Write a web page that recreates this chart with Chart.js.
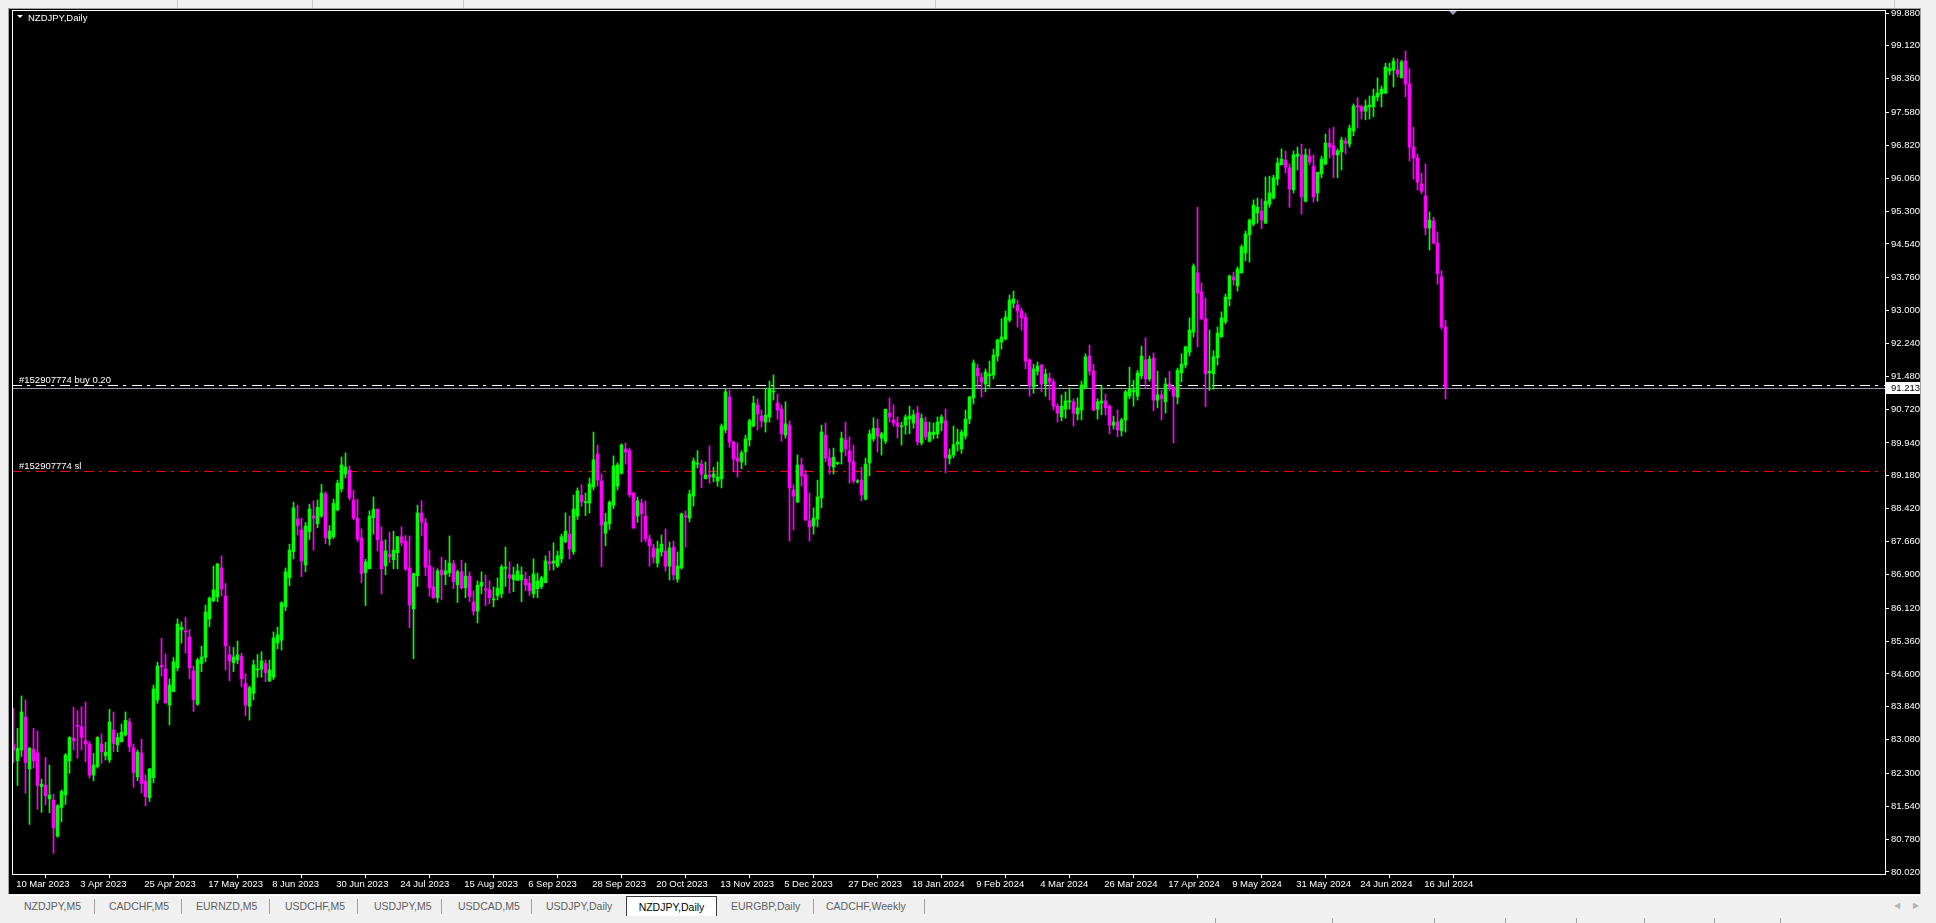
<!DOCTYPE html>
<html>
<head>
<meta charset="utf-8">
<title>NZDJPY,Daily</title>
<script src="https://cdn.jsdelivr.net/npm/chart.js@4.4.1/dist/chart.umd.min.js"></script>
<style>
html,body{margin:0;padding:0;width:1936px;height:923px;overflow:hidden;background:#f0f0f0;font-family:"Liberation Sans",Arial,sans-serif;}
#frame{position:absolute;left:8px;top:8px;width:1913px;height:887px;background:#a0a0a0;}
#wrap{position:absolute;left:9px;top:9px;width:1911px;height:885px;background:#000;}
#c{display:block;}
.topline{position:absolute;top:0;width:1px;height:8px;background:#c8c8c8;}
#tabbar{position:absolute;left:0;top:894px;width:1936px;height:29px;background:#f0f0f0;}
#tabbar .wl{position:absolute;left:9px;top:1px;width:1911px;height:1px;background:#ffffff;}
.tab{position:absolute;top:6px;font-size:10.5px;color:#5f5f5f;white-space:nowrap;line-height:13px;}
.sep{position:absolute;top:5px;width:1px;height:15px;background:#a0a0a0;}
.active{position:absolute;top:2px;height:20px;background:#ffffff;border:1px solid #3c3c3c;border-bottom:none;box-sizing:border-box;font-size:10.5px;color:#000;line-height:13px;padding-top:4px;text-align:center;white-space:nowrap;}
.arrow{position:absolute;top:7px;font-size:8px;color:#b4b4b4;}
.sb{position:absolute;top:24px;width:1px;height:5px;background:#a0a0a0;}
</style>
</head>
<body>
<div class="topline" style="left:177px"></div>
<div class="topline" style="left:312px"></div>
<div class="topline" style="left:463px"></div>
<div class="topline" style="left:935px"></div>
<div class="topline" style="left:1894px"></div>
<div id="frame"></div>
<div id="wrap"><canvas id="c" width="1911" height="885"></canvas></div>
<div id="tabbar">
  <div class="wl"></div>
  <span class="tab" style="left:24px">NZDJPY,M5</span>
  <i class="sep" style="left:94px"></i>
  <span class="tab" style="left:109px">CADCHF,M5</span>
  <i class="sep" style="left:181px"></i>
  <span class="tab" style="left:196px">EURNZD,M5</span>
  <i class="sep" style="left:269px"></i>
  <span class="tab" style="left:285px">USDCHF,M5</span>
  <i class="sep" style="left:357px"></i>
  <span class="tab" style="left:374px">USDJPY,M5</span>
  <i class="sep" style="left:441px"></i>
  <span class="tab" style="left:458px">USDCAD,M5</span>
  <i class="sep" style="left:531px"></i>
  <span class="tab" style="left:546px">USDJPY,Daily</span>
  <div class="active" style="left:626px;width:91px">NZDJPY,Daily</div>
  <span class="tab" style="left:731px">EURGBP,Daily</span>
  <i class="sep" style="left:813px"></i>
  <span class="tab" style="left:826px">CADCHF,Weekly</span>
  <i class="sep" style="left:924px"></i>
  <span class="arrow" style="left:1894px">&#9664;</span>
  <span class="arrow" style="left:1913px">&#9654;</span>
  <i class="sb" style="left:1215px"></i>
  <i class="sb" style="left:1332px"></i>
  <i class="sb" style="left:1434px"></i>
  <i class="sb" style="left:1505px"></i>
  <i class="sb" style="left:1576px"></i>
  <i class="sb" style="left:1644px"></i>
  <i class="sb" style="left:1714px"></i>
  <i class="sb" style="left:1780px"></i>
</div>
<script>
// ---- Data (daily candles, bar 0 = 10 Mar 2023) ----
const open = [
82.98,82.59,82.84,83.60,82.40,82.86,82.77,81.99,82.03,81.71,
81.68,80.85,81.51,81.80,82.59,83.11,83.40,83.38,83.05,82.98,
82.26,82.46,82.98,82.71,82.61,83.30,82.96,83.03,83.19,83.49,
82.89,82.22,82.77,82.12,81.74,82.20,84.00,84.80,84.71,83.88,
84.19,84.74,85.62,85.58,85.45,84.67,83.90,84.84,84.98,85.87,
86.29,86.38,87.05,86.40,85.04,84.86,84.92,85.01,84.37,83.85,
84.15,84.69,84.71,84.84,84.44,84.52,85.31,85.38,86.15,86.82,
87.43,88.18,87.93,87.12,87.89,88.25,88.07,88.25,88.76,87.72,
87.77,88.39,88.88,89.22,89.31,88.62,88.20,87.74,86.94,87.03,
88.21,88.41,87.67,87.10,87.36,87.24,87.40,87.77,87.67,87.05,
86.10,86.87,88.32,88.09,87.09,86.61,86.36,87.00,86.90,86.94,
87.14,86.66,86.96,86.59,86.86,86.26,86.05,86.63,86.55,86.54,
86.31,86.41,86.45,87.04,86.89,86.78,86.76,86.78,86.79,86.69,
86.45,86.57,86.62,86.71,87.19,87.16,87.09,87.26,87.66,87.83,
87.42,88.25,88.73,88.56,88.55,88.92,89.68,89.06,87.85,88.07,
88.50,88.94,89.24,89.80,89.76,88.78,88.25,88.55,88.25,87.72,
87.51,87.16,87.42,87.44,87.09,87.53,86.79,87.05,88.24,88.20,
88.71,89.45,89.45,89.11,89.20,89.15,89.06,89.11,90.24,91.00,
89.96,89.59,89.50,89.73,90.01,90.33,90.82,90.56,90.42,90.54,
91.12,90.86,90.72,90.12,90.35,88.85,88.57,89.43,89.20,88.14,
88.02,88.18,88.67,90.12,89.59,89.38,89.46,89.73,90.01,89.76,
89.50,89.04,89.08,88.64,89.48,90.03,90.28,90.05,89.98,90.63,
90.47,90.40,90.31,90.35,90.49,90.40,90.63,89.94,90.42,89.98,
90.13,90.15,90.40,90.45,89.58,89.66,89.91,89.80,90.10,90.49,
90.98,91.67,91.46,91.30,91.49,91.51,91.95,92.27,92.34,92.78,
93.17,93.13,92.99,92.85,91.86,91.23,91.60,91.74,91.30,91.44,
91.35,90.79,90.54,90.72,90.89,90.89,90.61,90.70,91.21,91.95,
91.60,90.72,90.86,90.91,90.79,90.35,90.42,90.22,90.47,91.02,
91.12,91.02,91.49,91.86,91.42,91.90,90.93,91.05,90.89,91.30,
91.23,91.00,91.56,91.74,92.04,92.50,93.87,93.43,92.81,91.56,
91.54,91.91,92.39,92.74,93.27,93.78,93.57,93.87,94.33,94.75,
95.00,95.26,95.30,95.02,95.46,95.60,96.04,96.37,96.48,96.30,
95.79,96.57,96.60,95.53,96.57,96.34,95.72,96.16,96.39,96.87,
96.81,96.60,96.67,96.92,96.85,97.15,97.72,97.71,97.61,97.71,
97.71,97.94,98.01,98.03,98.54,98.56,98.56,98.38,98.77,98.24,
96.78,96.53,95.93,95.65,94.91,95.07,94.56,93.78,92.62];
const high = [
83.80,83.34,84.09,84.00,82.90,83.34,83.28,82.17,82.67,82.49,
81.82,81.58,81.92,82.76,83.15,83.83,83.75,83.84,83.95,83.03,
82.76,83.15,83.21,83.02,83.78,83.72,83.23,83.44,83.72,83.57,
82.98,82.84,83.09,82.26,82.42,84.34,84.87,85.42,85.06,84.48,
84.98,85.87,85.80,85.91,85.63,84.78,84.96,85.24,86.19,86.38,
87.09,87.16,87.33,86.69,85.24,85.21,85.36,85.08,84.60,84.32,
84.92,85.05,85.11,84.92,84.92,85.57,85.68,86.27,87.05,87.60,
88.57,88.50,88.20,88.10,88.52,88.60,88.62,88.98,88.81,88.03,
88.64,89.08,89.61,89.71,89.41,88.85,88.64,87.95,87.25,88.37,
88.69,88.41,88.00,87.70,87.88,87.90,87.78,88.00,87.80,87.79,
86.93,88.50,88.60,88.20,87.46,87.06,87.03,87.30,87.23,87.79,
87.23,87.00,87.23,87.16,86.96,86.52,86.75,86.96,86.89,86.75,
86.61,86.82,87.12,87.53,87.19,87.07,87.14,87.07,86.96,86.86,
87.26,86.93,86.86,87.33,87.44,87.63,87.44,87.83,88.32,88.25,
88.73,88.90,88.97,88.78,89.13,90.19,89.89,89.22,88.31,88.60,
89.64,89.48,89.92,89.94,89.82,88.80,88.69,88.64,88.60,87.81,
87.60,87.67,87.81,87.95,87.65,87.67,87.42,88.32,88.37,88.85,
89.59,89.76,89.54,89.50,89.87,89.38,89.50,90.38,91.19,91.16,
89.98,89.94,89.76,90.12,90.49,91.02,90.96,90.70,91.21,91.37,
91.51,91.07,90.82,90.89,90.45,88.97,89.66,89.59,89.31,88.78,
88.44,89.08,90.35,90.40,89.80,89.82,89.50,90.19,90.42,90.08,
89.89,89.09,89.38,89.59,90.24,90.52,90.49,90.19,90.72,90.98,
90.82,90.54,90.42,90.59,90.79,90.70,90.79,90.61,90.54,90.42,
90.40,90.54,90.59,90.72,89.80,90.33,90.26,90.24,90.70,91.02,
91.86,91.76,91.56,91.65,91.83,92.11,92.34,92.81,92.99,93.36,
93.45,93.24,93.06,92.94,91.88,91.76,91.81,91.76,91.65,91.56,
91.42,90.84,91.05,91.12,91.21,90.96,90.98,91.37,92.00,92.20,
91.76,90.96,91.26,91.07,90.82,90.56,90.70,90.51,91.16,91.69,
91.39,91.62,92.18,92.37,91.95,92.02,91.60,91.16,91.44,91.60,
91.25,91.67,92.00,92.18,92.83,94.08,95.39,93.64,93.29,92.55,
92.07,92.62,92.97,93.38,93.82,93.89,94.01,94.52,94.84,95.12,
95.56,95.60,95.58,96.09,96.11,96.13,96.53,96.74,96.69,96.39,
96.69,96.78,96.85,96.74,96.74,96.60,96.20,96.57,97.08,97.20,
97.24,96.74,97.01,96.99,97.29,97.78,97.92,97.75,97.87,97.96,
98.12,98.38,98.19,98.72,98.72,98.84,98.82,98.79,99.00,98.59,
97.24,96.62,96.18,96.39,95.28,95.16,94.82,93.92,92.78];
const low = [
82.55,82.02,82.69,81.84,81.12,82.42,81.47,81.40,81.57,81.39,
80.45,80.82,81.18,81.58,82.30,82.84,82.65,82.84,82.57,82.19,
82.13,82.42,82.53,82.61,82.55,82.80,82.80,83.03,83.16,82.80,
81.98,82.13,81.85,81.55,81.65,82.08,83.92,84.55,83.92,83.42,
84.19,84.67,85.31,85.08,84.49,83.73,83.87,84.65,84.88,85.69,
86.27,86.27,86.40,84.69,84.44,84.65,84.83,84.30,83.63,83.53,
84.00,84.52,84.52,84.42,84.42,84.47,85.18,85.15,86.06,86.64,
87.26,87.81,86.85,86.96,87.71,87.46,87.98,88.22,87.61,87.58,
87.73,88.37,88.81,89.13,88.62,88.16,87.66,86.71,86.18,87.03,
87.83,87.45,86.45,86.89,87.17,87.03,87.03,87.56,86.99,85.67,
84.95,86.62,87.79,86.87,86.39,86.34,86.25,86.32,86.66,86.85,
86.57,86.25,86.56,86.36,86.27,85.96,85.78,86.45,86.18,86.22,
86.15,86.31,86.36,86.62,86.47,86.50,86.76,86.27,86.52,86.41,
86.36,86.36,86.57,86.71,86.99,87.00,87.06,87.17,87.63,87.26,
87.36,88.17,88.47,88.26,88.32,88.85,88.94,87.08,87.56,87.94,
88.42,88.85,89.22,89.45,88.69,87.97,88.10,87.65,87.65,87.09,
87.16,87.07,87.32,86.98,86.77,86.77,86.72,87.02,87.53,88.11,
88.48,89.36,88.90,89.11,89.01,89.04,88.94,88.90,90.17,89.84,
89.27,89.15,89.34,89.43,89.87,90.31,90.24,90.31,90.19,90.42,
90.93,90.49,89.98,90.05,87.67,87.93,88.57,88.94,88.14,87.67,
87.83,88.00,88.44,89.50,89.22,89.22,89.44,89.45,89.64,89.01,
89.01,89.01,88.60,88.62,89.18,89.98,89.73,89.66,89.92,90.42,
90.33,90.05,89.89,90.14,90.15,90.28,89.89,89.89,90.01,89.96,
90.03,90.05,90.22,89.25,89.45,89.60,89.75,89.70,90.03,90.38,
90.84,91.21,91.00,91.12,91.23,91.42,91.83,92.11,92.32,92.74,
93.06,92.62,92.55,91.65,91.02,91.09,91.51,91.12,91.02,90.93,
90.70,90.42,90.45,90.51,90.72,90.33,90.47,90.47,91.19,91.51,
90.68,90.49,90.59,90.59,90.15,90.26,90.08,90.10,90.19,90.96,
90.79,90.93,91.42,91.21,91.37,90.68,90.75,90.47,90.63,91.14,
89.94,90.84,91.35,91.67,91.95,92.39,92.16,92.78,90.78,91.15,
91.18,91.74,92.39,92.69,93.11,93.59,93.45,93.87,94.15,94.12,
94.96,95.02,94.89,95.02,95.39,95.58,95.90,96.37,96.18,95.39,
95.72,96.25,95.23,95.51,96.37,95.51,95.53,96.07,96.37,96.53,
96.07,96.07,96.25,96.62,96.78,97.04,97.22,97.43,97.41,97.43,
97.48,97.85,97.71,98.01,98.45,98.17,98.40,98.38,97.94,96.46,
96.04,95.79,95.70,94.75,94.40,94.54,93.61,92.57,90.96];
const close = [
82.84,82.88,83.72,82.55,82.88,82.59,82.02,82.05,81.78,81.80,
81.04,81.55,81.88,82.72,83.13,83.05,83.39,83.13,82.98,82.26,
82.49,83.13,82.80,82.79,83.49,82.99,83.13,83.25,83.53,82.92,
82.32,82.79,82.07,81.76,82.40,84.25,84.78,84.76,83.93,84.34,
84.88,85.75,85.68,85.57,84.74,84.00,84.92,84.99,86.03,86.35,
86.54,87.14,86.56,85.25,84.90,84.99,85.04,84.49,83.88,84.28,
84.81,84.71,84.90,84.63,84.69,85.43,85.50,86.24,86.96,87.46,
88.44,88.03,87.21,88.02,88.41,88.20,88.45,88.78,87.75,87.90,
88.54,89.01,89.43,89.38,88.67,88.20,87.72,86.92,87.19,88.25,
88.41,87.70,87.03,87.44,87.31,87.46,87.77,87.63,87.03,86.19,
86.92,88.32,88.11,87.07,86.59,86.36,86.98,86.89,86.98,87.16,
86.73,86.96,86.59,86.86,86.39,86.05,86.65,86.72,86.54,86.36,
86.32,86.58,87.07,87.05,86.82,86.89,86.98,86.89,86.66,86.52,
86.91,86.75,86.82,87.21,87.15,87.21,87.33,87.77,87.90,87.49,
88.41,88.83,88.58,88.57,88.99,89.55,89.08,88.04,88.11,88.57,
89.41,89.43,89.89,89.73,88.74,87.97,88.60,88.30,87.72,87.56,
87.30,87.49,87.60,87.09,87.51,86.89,87.09,88.30,88.23,88.76,
89.52,89.46,89.22,89.20,89.15,89.22,89.15,90.33,91.12,89.96,
89.57,89.52,89.71,90.03,90.45,90.86,90.61,90.45,90.58,91.19,
91.13,90.70,90.15,90.38,88.90,88.71,89.43,89.18,88.16,88.00,
88.20,88.69,90.19,89.59,89.41,89.61,89.47,90.05,89.80,89.50,
89.06,89.06,88.74,89.45,90.15,90.28,90.10,90.15,90.72,90.54,
90.40,90.33,90.32,90.54,90.56,90.59,89.96,90.51,90.08,90.19,
90.19,90.42,90.54,89.60,89.66,89.90,89.96,90.19,90.49,91.00,
91.79,91.49,91.35,91.58,91.53,91.97,92.32,92.39,92.85,93.24,
93.27,92.99,92.83,91.83,91.26,91.65,91.72,91.30,91.53,91.35,
90.79,90.63,90.79,90.91,90.91,90.63,90.75,91.28,91.93,91.60,
90.70,90.89,90.91,90.75,90.35,90.42,90.24,90.47,91.12,91.19,
91.16,91.56,91.95,91.42,91.88,90.93,91.05,90.96,91.30,91.23,
91.02,91.62,91.76,92.16,92.55,94.03,93.41,92.81,91.54,91.60,
91.93,92.48,92.83,93.31,93.80,93.71,93.96,94.47,94.77,95.09,
95.44,95.39,95.09,95.53,95.72,96.07,96.41,96.50,96.32,95.81,
96.60,96.62,95.63,96.60,96.44,95.63,96.20,96.50,96.87,96.78,
96.60,96.69,96.94,96.87,97.22,97.73,97.71,97.61,97.73,97.75,
97.96,98.03,98.12,98.63,98.59,98.77,98.47,98.75,98.24,96.78,
96.53,95.97,95.76,94.91,95.09,94.56,93.85,92.62,91.22];

// time axis labels (one every 16 bars)
const xTickBars = [0,16,32,48,64,80,96,112,128,144,160,176,192,208,224,240,256,272,288,304,320,336,352];
const xTickLabels = ['10 Mar 2023','3 Apr 2023','25 Apr 2023','17 May 2023','8 Jun 2023','30 Jun 2023','24 Jul 2023','15 Aug 2023','6 Sep 2023','28 Sep 2023','20 Oct 2023','13 Nov 2023','5 Dec 2023','27 Dec 2023','18 Jan 2024','9 Feb 2024','4 Mar 2024','26 Mar 2024','17 Apr 2024','9 May 2024','31 May 2024','24 Jun 2024','16 Jul 2024'];
// price axis labels
const yTickValues = [99.880,99.120,98.360,97.580,96.820,96.060,95.300,94.540,93.760,93.000,92.240,91.480,90.720,89.940,89.180,88.420,87.660,86.900,86.120,85.360,84.600,83.840,83.080,82.300,81.540,80.780,80.020];
// order levels
const bidPrice = 91.213;
const buyPrice = 91.28;
const slPrice = 89.29;
const buyLabel = '#152907774 buy 0.20';
const slLabel = '#152907774 sl';
const chartTitle = 'NZDJPY,Daily';

if (![high, low, close].every(a => a.length === open.length)) {
  throw new Error('length mismatch ' + [open.length, high.length, low.length, close.length].join(','));
}

const BULL = '#00ff00', BEAR = '#ff00ff';
const colorOf = i => close[i] >= open[i] ? BULL : BEAR;
const FONT = '"Liberation Sans", Arial, sans-serif';

const wickData = open.map((_, i) => ({x: i, y: [low[i], high[i]]}));
const bodyData = open.map((_, i) => ({x: i, y: [open[i], close[i]]}));

const mt4 = {
  id: 'mt4',
  beforeDraw(chart) {
    const c = chart.ctx;
    c.save(); c.fillStyle = '#000'; c.fillRect(0, 0, chart.width, chart.height); c.restore();
  },
  beforeDatasetsDraw(chart) {
    const {ctx, chartArea: a, scales: {y}} = chart;
    const line = (price, color, dash) => {
      const py = Math.round(y.getPixelForValue(price)) + 0.5;
      ctx.save();
      ctx.strokeStyle = color; ctx.lineWidth = 1; ctx.setLineDash(dash);
      ctx.beginPath(); ctx.moveTo(a.left, py); ctx.lineTo(a.right, py); ctx.stroke();
      ctx.restore();
      return py;
    };
    line(bidPrice, '#8c9aa8', []);
    line(buyPrice, '#ffffff', [10, 5, 3, 6]);
    line(slPrice, '#ff0000', [10, 5, 3, 6]);
  },
  afterDraw(chart) {
    const {ctx, chartArea: a, scales: {y}} = chart;
    ctx.save();
    // frame
    ctx.strokeStyle = '#ffffff'; ctx.lineWidth = 1;
    ctx.strokeRect(Math.round(a.left) + 0.5, Math.round(a.top) + 0.5, Math.round(a.right - a.left), Math.round(a.bottom - a.top));
    // order labels
    ctx.font = '9.5px ' + FONT;
    ctx.fillStyle = '#ffffff';
    ctx.textAlign = 'left'; ctx.textBaseline = 'alphabetic';
    const buyY = Math.round(y.getPixelForValue(buyPrice));
    const slY = Math.round(y.getPixelForValue(slPrice));
    ctx.fillText(buyLabel, a.left + 7, buyY - 2);
    ctx.fillText(slLabel, a.left + 7, slY - 2);
    // title with small triangle
    const t = Math.round(a.top);
    ctx.beginPath();
    ctx.moveTo(a.left + 5, t + 5); ctx.lineTo(a.left + 11, t + 5); ctx.lineTo(a.left + 8, t + 8);
    ctx.closePath(); ctx.fill();
    ctx.fillText(chartTitle, a.left + 16, t + 11);
    // chart shift marker
    ctx.fillStyle = '#8ea2c0';
    const sx = a.left + 1441;
    ctx.beginPath();
    ctx.moveTo(sx - 4, t + 1); ctx.lineTo(sx + 4, t + 1); ctx.lineTo(sx, t + 5);
    ctx.closePath(); ctx.fill();
    // bid price box on the axis
    const by = Math.round(y.getPixelForValue(bidPrice));
    ctx.fillStyle = '#ffffff';
    ctx.fillRect(a.right + 1, by - 6, chart.width - a.right - 1, 12);
    ctx.fillStyle = '#000000';
    ctx.textBaseline = 'middle';
    ctx.fillText(bidPrice.toFixed(3), a.right + 6, by + 0.5);
    ctx.restore();
  }
};

new Chart(document.getElementById('c').getContext('2d'), {
  type: 'bar',
  data: {
    datasets: [
      {data: wickData, barThickness: 1, grouped: false, backgroundColor: c => colorOf(c.dataIndex), borderWidth: 0, order: 2},
      {data: bodyData, barThickness: 3, grouped: false, minBarLength: 1, backgroundColor: c => colorOf(c.dataIndex), borderWidth: 0, order: 1}
    ]
  },
  options: {
    responsive: false,
    animation: false,
    events: [],
    layout: {padding: {left: 3, top: 1, right: 0, bottom: 0}, autoPadding: false},
    plugins: {legend: {display: false}, tooltip: {enabled: false}, title: {display: false}},
    scales: {
      x: {
        type: 'linear', position: 'bottom', min: -0.375, max: 467.875, bounds: 'data', offset: false,
        afterBuildTicks: s => { s.ticks = xTickBars.map(v => ({value: v})); },
        afterFit: s => { s.height = 20; },
        grid: {display: true, drawOnChartArea: false, drawTicks: true, tickLength: 4, color: '#ffffff', lineWidth: 1},
        border: {display: false},
        ticks: {autoSkip: false, maxRotation: 0, minRotation: 0, align: 'start', padding: 1, color: '#ffffff',
                font: {family: FONT, size: 9.5}, callback: (v, i) => ' ' + xTickLabels[i]}
      },
      y: {
        type: 'linear', position: 'right', min: 79.973, max: 99.9494, bounds: 'data',
        afterBuildTicks: s => { s.ticks = yTickValues.map(v => ({value: v})); },
        afterFit: s => { s.width = 35; s.paddingTop = 0; s.paddingBottom = 0; },
        grid: {display: true, drawOnChartArea: false, drawTicks: true, tickLength: 4, color: '#ffffff', lineWidth: 1},
        border: {display: false},
        ticks: {autoSkip: false, padding: 2, color: '#ffffff', font: {family: FONT, size: 9.5, lineHeight: '2px'}, callback: v => Number(v).toFixed(3)}
      }
    }
  },
  plugins: [mt4]
});
</script>
</body>
</html>
